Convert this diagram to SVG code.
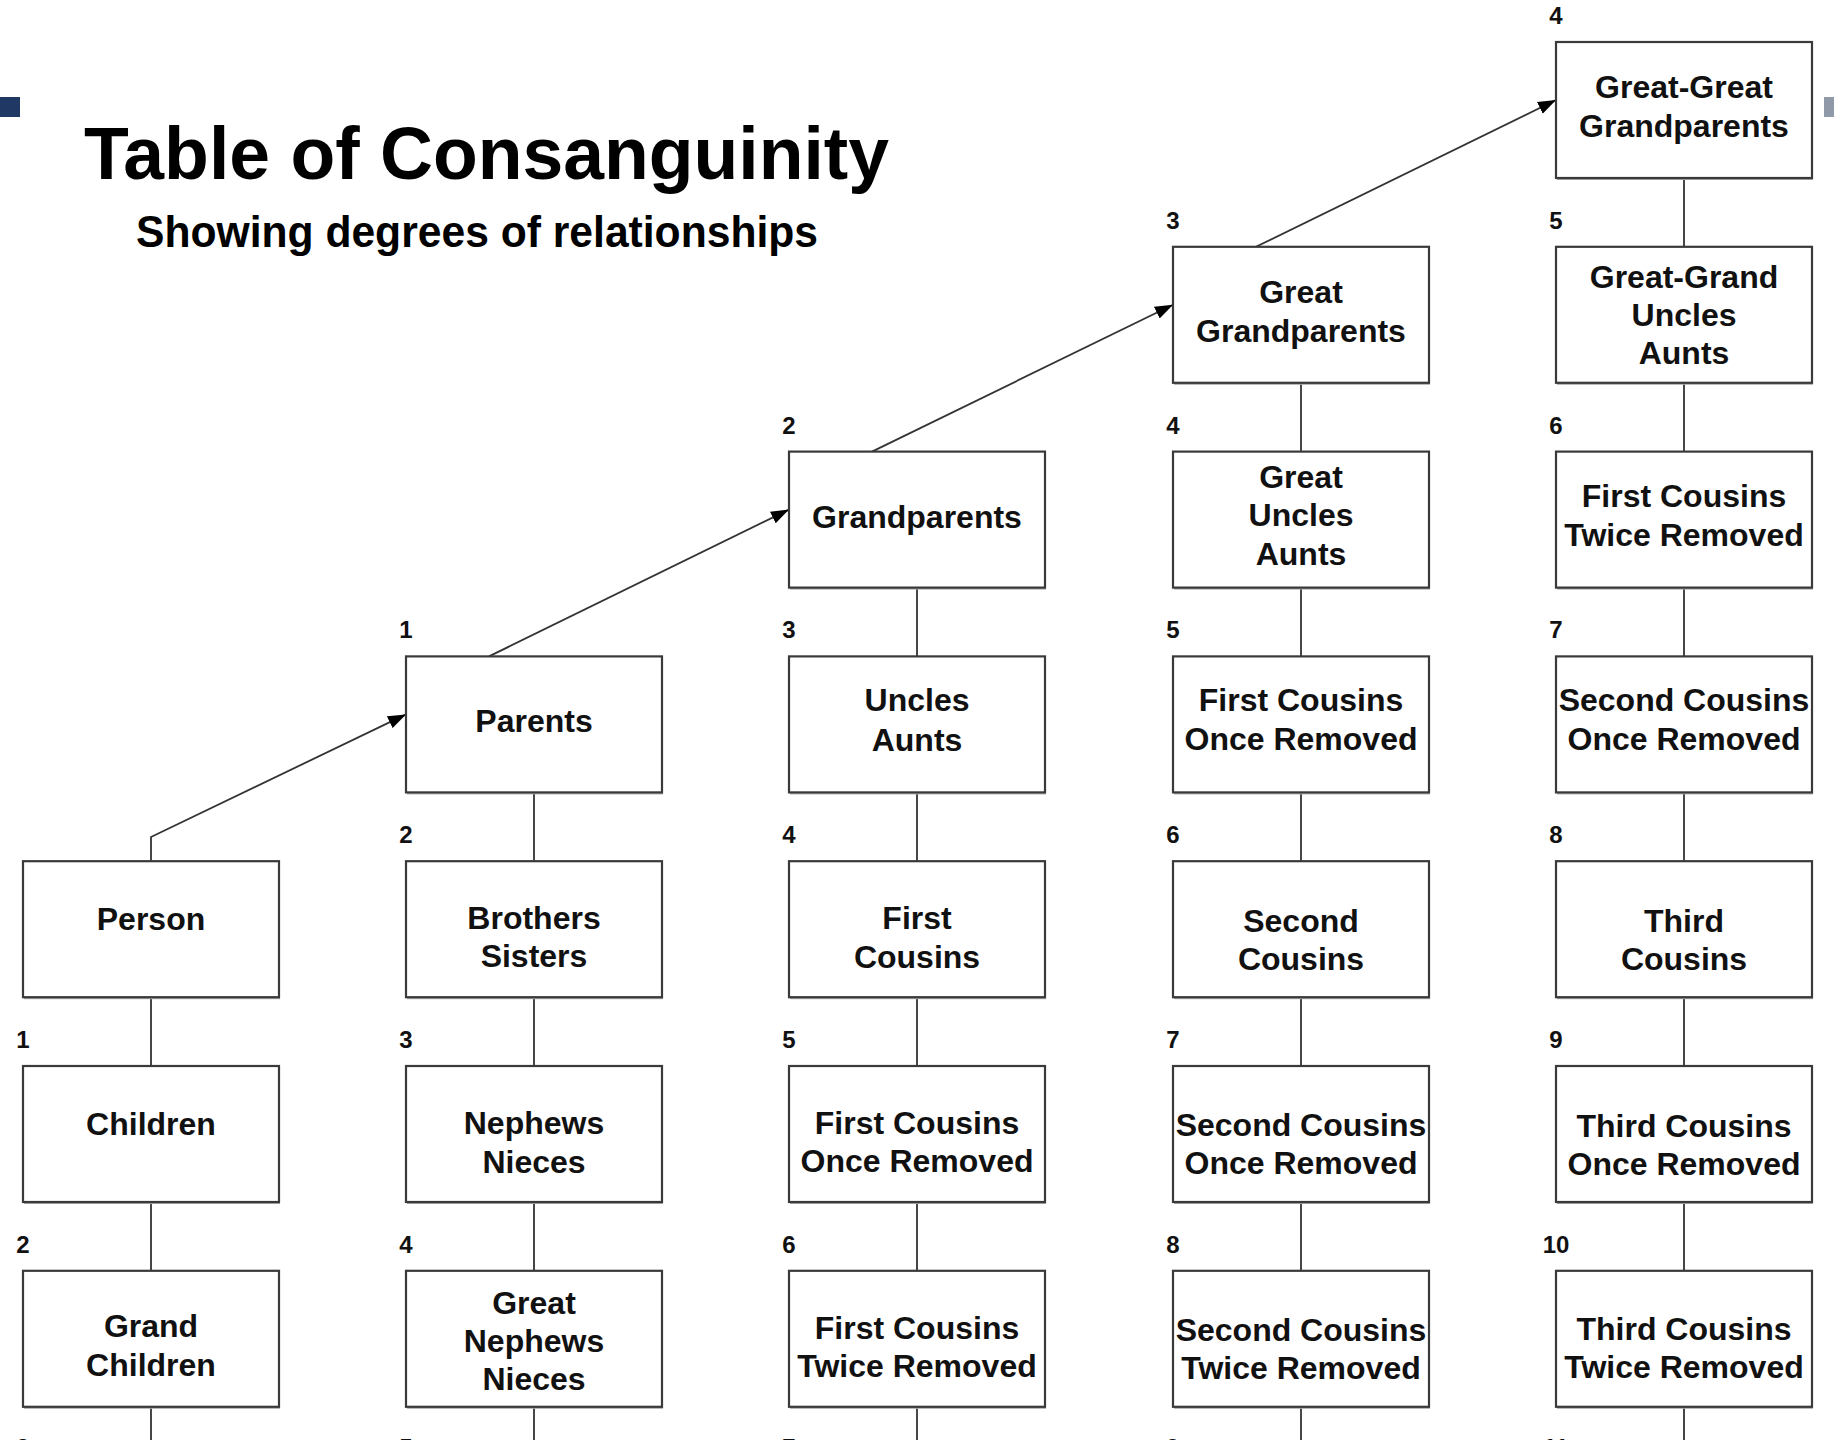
<svg xmlns="http://www.w3.org/2000/svg" width="1834" height="1440" viewBox="0 0 1834 1440">
<defs>
<style>
.bg{fill:#ffffff}
.box{fill:#ffffff;stroke:#3a3a3a;stroke-width:2.2}
.shadow{fill:#a8a8a8}
.lbl{font-family:"Liberation Sans",Arial,Helvetica,sans-serif;font-weight:bold;font-size:32px;fill:#111;text-anchor:middle}
.num{font-family:"Liberation Sans",Arial,Helvetica,sans-serif;font-weight:bold;font-size:24px;fill:#111;text-anchor:middle}
.title{font-family:"Liberation Sans",Arial,Helvetica,sans-serif;font-weight:bold;fill:#000}
.conn{fill:none;stroke:#333;stroke-width:1.8}
</style>
<marker id="arr" viewBox="0 0 18 14" markerWidth="18" markerHeight="14" refX="18" refY="7" orient="auto" markerUnits="userSpaceOnUse">
<path d="M0,0.5 L18,7 L0,13.5 z" fill="#000"/>
</marker>
</defs>
<rect class="bg" x="0" y="0" width="1834" height="1440"/>
<rect x="0" y="97" width="20" height="20" fill="#1f3864"/>
<rect x="1824" y="97" width="10" height="20" fill="#8f99a8"/>
<text class="title" x="84" y="179" font-size="75" textLength="805" lengthAdjust="spacingAndGlyphs">Table of Consanguinity</text>
<text class="title" x="136" y="247" font-size="44" textLength="682" lengthAdjust="spacingAndGlyphs">Showing degrees of relationships</text>

<g id="connectors">
<path class="conn" d="M151,861.2 V837 L406,714.4" marker-end="url(#arr)"/>
<path class="conn" d="M489,656.4 L789,509.6" marker-end="url(#arr)"/>
<path class="conn" d="M872,451.6 L1173,304.8" marker-end="url(#arr)"/>
<path class="conn" d="M1256,246.8 L1556,100" marker-end="url(#arr)"/>
<path class="conn" d="M151,997.2 V1066 M151,1202 V1270.8 M151,1406.8 V1440"/>
<path class="conn" d="M534,792.4 V861.2 M534,997.2 V1066 M534,1202 V1270.8 M534,1406.8 V1440"/>
<path class="conn" d="M917,587.6 V656.4 M917,792.4 V861.2 M917,997.2 V1066 M917,1202 V1270.8 M917,1406.8 V1440"/>
<path class="conn" d="M1301,382.8 V451.6 M1301,587.6 V656.4 M1301,792.4 V861.2 M1301,997.2 V1066 M1301,1202 V1270.8 M1301,1406.8 V1440"/>
<path class="conn" d="M1684,178 V246.8 M1684,382.8 V451.6 M1684,587.6 V656.4 M1684,792.4 V861.2 M1684,997.2 V1066 M1684,1202 V1270.8 M1684,1406.8 V1440"/>
</g>

<g id="n-person"><rect class="shadow" x="24" y="863.2" width="256" height="136"/><rect class="box" x="23" y="861.2" width="256" height="136"/><text class="lbl" x="151" y="929.5">Person</text></g>
<g id="n-children"><rect class="shadow" x="24" y="1068" width="256" height="136"/><rect class="box" x="23" y="1066" width="256" height="136"/><text class="lbl" x="151" y="1135">Children</text><text class="num" x="23" y="1048">1</text></g>
<g id="n-grandchildren"><rect class="shadow" x="24" y="1272.8" width="256" height="136"/><rect class="box" x="23" y="1270.8" width="256" height="136"/><text class="lbl" x="151" y="1336.8">Grand</text><text class="lbl" x="151" y="1375.8">Children</text><text class="num" x="23" y="1252.8">2</text><text class="num" x="23" y="1456">3</text></g>

<g id="n-parents"><rect class="shadow" x="407" y="658.4" width="256" height="136"/><rect class="box" x="406" y="656.4" width="256" height="136"/><text class="lbl" x="534" y="732.4">Parents</text><text class="num" x="406" y="638.4">1</text></g>
<g id="n-siblings"><rect class="shadow" x="407" y="863.2" width="256" height="136"/><rect class="box" x="406" y="861.2" width="256" height="136"/><text class="lbl" x="534" y="929">Brothers</text><text class="lbl" x="534" y="967">Sisters</text><text class="num" x="406" y="843.2">2</text></g>
<g id="n-nephews"><rect class="shadow" x="407" y="1068" width="256" height="136"/><rect class="box" x="406" y="1066" width="256" height="136"/><text class="lbl" x="534" y="1133.5">Nephews</text><text class="lbl" x="534" y="1172.5">Nieces</text><text class="num" x="406" y="1048">3</text></g>
<g id="n-greatnephews"><rect class="shadow" x="407" y="1272.8" width="256" height="136"/><rect class="box" x="406" y="1270.8" width="256" height="136"/><text class="lbl" x="534" y="1313.5">Great</text><text class="lbl" x="534" y="1351.5">Nephews</text><text class="lbl" x="534" y="1389.5">Nieces</text><text class="num" x="406" y="1252.8">4</text><text class="num" x="406" y="1456">5</text></g>

<g id="n-grandparents"><rect class="shadow" x="790" y="453.6" width="256" height="136"/><rect class="box" x="789" y="451.6" width="256" height="136"/><text class="lbl" x="917" y="527.6">Grandparents</text><text class="num" x="789" y="433.6">2</text></g>
<g id="n-uncles"><rect class="shadow" x="790" y="658.4" width="256" height="136"/><rect class="box" x="789" y="656.4" width="256" height="136"/><text class="lbl" x="917" y="711.4">Uncles</text><text class="lbl" x="917" y="751.4">Aunts</text><text class="num" x="789" y="638.4">3</text></g>
<g id="n-firstcousins"><rect class="shadow" x="790" y="863.2" width="256" height="136"/><rect class="box" x="789" y="861.2" width="256" height="136"/><text class="lbl" x="917" y="929.2">First</text><text class="lbl" x="917" y="968.2">Cousins</text><text class="num" x="789" y="843.2">4</text></g>
<g id="n-fc1r-a"><rect class="shadow" x="790" y="1068" width="256" height="136"/><rect class="box" x="789" y="1066" width="256" height="136"/><text class="lbl" x="917" y="1134">First Cousins</text><text class="lbl" x="917" y="1172">Once Removed</text><text class="num" x="789" y="1048">5</text></g>
<g id="n-fc2r-a"><rect class="shadow" x="790" y="1272.8" width="256" height="136"/><rect class="box" x="789" y="1270.8" width="256" height="136"/><text class="lbl" x="917" y="1338.8">First Cousins</text><text class="lbl" x="917" y="1376.8">Twice Removed</text><text class="num" x="789" y="1252.8">6</text><text class="num" x="789" y="1456">7</text></g>

<g id="n-greatgrandparents"><rect class="shadow" x="1174" y="248.8" width="256" height="136"/><rect class="box" x="1173" y="246.8" width="256" height="136"/><text class="lbl" x="1301" y="302.8">Great</text><text class="lbl" x="1301" y="341.8">Grandparents</text><text class="num" x="1173" y="228.8">3</text></g>
<g id="n-greatuncles"><rect class="shadow" x="1174" y="453.6" width="256" height="136"/><rect class="box" x="1173" y="451.6" width="256" height="136"/><text class="lbl" x="1301" y="487.6">Great</text><text class="lbl" x="1301" y="525.6">Uncles</text><text class="lbl" x="1301" y="564.6">Aunts</text><text class="num" x="1173" y="433.6">4</text></g>
<g id="n-fc1r-b"><rect class="shadow" x="1174" y="658.4" width="256" height="136"/><rect class="box" x="1173" y="656.4" width="256" height="136"/><text class="lbl" x="1301" y="711.4">First Cousins</text><text class="lbl" x="1301" y="750.4">Once Removed</text><text class="num" x="1173" y="638.4">5</text></g>
<g id="n-secondcousins"><rect class="shadow" x="1174" y="863.2" width="256" height="136"/><rect class="box" x="1173" y="861.2" width="256" height="136"/><text class="lbl" x="1301" y="932.2">Second</text><text class="lbl" x="1301" y="970.2">Cousins</text><text class="num" x="1173" y="843.2">6</text></g>
<g id="n-sc1r-a"><rect class="shadow" x="1174" y="1068" width="256" height="136"/><rect class="box" x="1173" y="1066" width="256" height="136"/><text class="lbl" x="1301" y="1136">Second Cousins</text><text class="lbl" x="1301" y="1174">Once Removed</text><text class="num" x="1173" y="1048">7</text></g>
<g id="n-sc2r"><rect class="shadow" x="1174" y="1272.8" width="256" height="136"/><rect class="box" x="1173" y="1270.8" width="256" height="136"/><text class="lbl" x="1301" y="1340.8">Second Cousins</text><text class="lbl" x="1301" y="1378.8">Twice Removed</text><text class="num" x="1173" y="1252.8">8</text><text class="num" x="1173" y="1456">9</text></g>

<g id="n-greatgreatgrandparents"><rect class="shadow" x="1557" y="44" width="256" height="136"/><rect class="box" x="1556" y="42" width="256" height="136"/><text class="lbl" x="1684" y="98">Great-Great</text><text class="lbl" x="1684" y="137">Grandparents</text><text class="num" x="1556" y="24">4</text></g>
<g id="n-greatgranduncles"><rect class="shadow" x="1557" y="248.8" width="256" height="136"/><rect class="box" x="1556" y="246.8" width="256" height="136"/><text class="lbl" x="1684" y="287.8">Great-Grand</text><text class="lbl" x="1684" y="325.8">Uncles</text><text class="lbl" x="1684" y="363.8">Aunts</text><text class="num" x="1556" y="228.8">5</text></g>
<g id="n-fc2r-b"><rect class="shadow" x="1557" y="453.6" width="256" height="136"/><rect class="box" x="1556" y="451.6" width="256" height="136"/><text class="lbl" x="1684" y="506.6">First Cousins</text><text class="lbl" x="1684" y="545.6">Twice Removed</text><text class="num" x="1556" y="433.6">6</text></g>
<g id="n-sc1r-b"><rect class="shadow" x="1557" y="658.4" width="256" height="136"/><rect class="box" x="1556" y="656.4" width="256" height="136"/><text class="lbl" x="1684" y="711.4">Second Cousins</text><text class="lbl" x="1684" y="750.4">Once Removed</text><text class="num" x="1556" y="638.4">7</text></g>
<g id="n-thirdcousins"><rect class="shadow" x="1557" y="863.2" width="256" height="136"/><rect class="box" x="1556" y="861.2" width="256" height="136"/><text class="lbl" x="1684" y="932.2">Third</text><text class="lbl" x="1684" y="970.2">Cousins</text><text class="num" x="1556" y="843.2">8</text></g>
<g id="n-tc1r"><rect class="shadow" x="1557" y="1068" width="256" height="136"/><rect class="box" x="1556" y="1066" width="256" height="136"/><text class="lbl" x="1684" y="1137">Third Cousins</text><text class="lbl" x="1684" y="1175">Once Removed</text><text class="num" x="1556" y="1048">9</text></g>
<g id="n-tc2r"><rect class="shadow" x="1557" y="1272.8" width="256" height="136"/><rect class="box" x="1556" y="1270.8" width="256" height="136"/><text class="lbl" x="1684" y="1339.8">Third Cousins</text><text class="lbl" x="1684" y="1377.8">Twice Removed</text><text class="num" x="1556" y="1252.8">10</text><text class="num" x="1556" y="1456">11</text></g>
</svg>
